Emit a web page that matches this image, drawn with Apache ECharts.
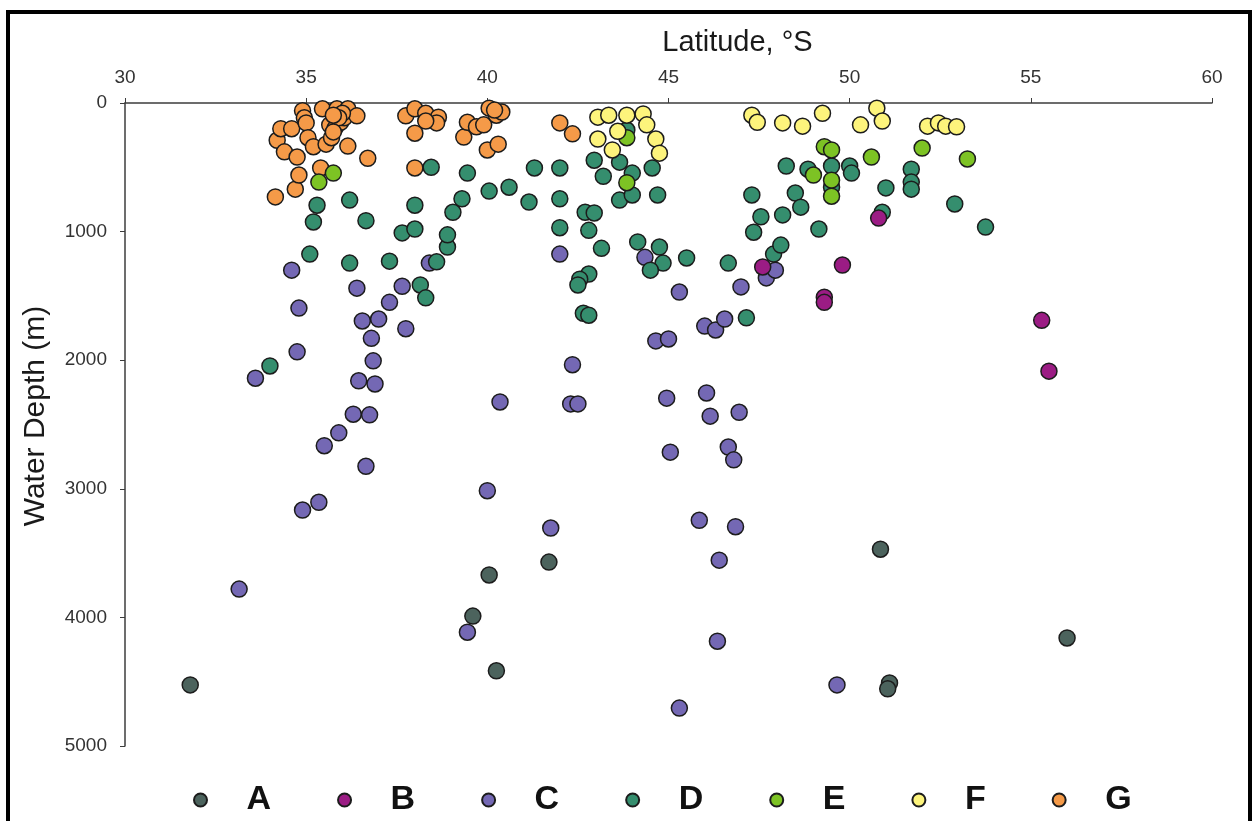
<!DOCTYPE html>
<html>
<head>
<meta charset="utf-8">
<title>Water depth vs latitude</title>
<script src="https://cdn.jsdelivr.net/npm/echarts@6/dist/echarts.min.js"></script>
<style>
html, body { margin: 0; padding: 0; background: #fff; }
#chart { width: 1253px; height: 821px; }
</style>
</head>
<body>
<div id="chart"></div>
<script>
// [latitude °S, water depth m]
const groupA = [[31.8,4525],[39.6,3990],[40.05,3670],[40.25,4415],[41.7,3570],[50.85,3470],[51.1,4510],[51.05,4555],[56.0,4160]];
const groupB = [[47.6,1275],[49.8,1260],[49.3,1510],[49.3,1550],[50.8,895],[55.3,1690],[55.5,2085]];
const groupC = [[33.15,3780],[33.6,2140],[34.6,1300],[34.8,1595],[34.75,1935],[34.9,3165],[35.35,3105],[35.5,2665],[35.9,2565],[36.3,2420],[36.75,2425],[36.65,2825],[36.4,1440],[36.55,1695],[37.0,1680],[36.8,1830],[36.85,2005],[36.45,2160],[36.9,2185],[37.3,1550],[37.65,1425],[37.75,1755],[38.4,1245],[39.45,4115],[40.0,3015],[40.35,2325],[41.75,3305],[42.0,1175],[42.35,2035],[42.3,2340],[42.5,2340],[44.35,1200],[45.3,1470],[44.65,1850],[45.0,1835],[44.95,2295],[45.05,2715],[45.3,4705],[45.85,3245],[46.0,1735],[46.3,1765],[46.55,1680],[46.05,2255],[46.15,2435],[46.4,3555],[46.35,4185],[46.65,2675],[46.8,2775],[46.85,3295],[46.95,2405],[47.0,1430],[47.7,1360],[47.95,1300],[49.65,4525]];
const groupD = [[34.0,2045],[35.1,1175],[35.2,925],[35.3,795],[36.2,755],[36.2,1245],[36.65,915],[37.3,1230],[37.65,1010],[38.0,980],[38.0,795],[38.15,1415],[38.3,1515],[38.45,500],[38.6,1235],[38.9,1120],[38.9,1025],[39.05,850],[39.3,745],[39.45,545],[40.05,685],[40.6,655],[41.15,770],[41.3,505],[42.0,505],[42.0,745],[42.0,970],[42.7,850],[42.95,855],[42.8,990],[43.15,1130],[42.8,1330],[42.55,1370],[42.5,1415],[42.65,1635],[42.8,1650],[42.95,445],[43.2,570],[43.65,460],[44.0,545],[44.55,505],[43.65,755],[44.0,715],[44.7,715],[44.15,1080],[44.75,1120],[44.85,1245],[44.5,1300],[45.5,1205],[46.65,1245],[47.15,1670],[47.3,715],[47.35,1005],[47.55,885],[47.9,1175],[48.1,1105],[48.15,870],[48.25,490],[48.5,700],[48.65,810],[48.85,515],[49.15,980],[49.5,490],[49.5,655],[50.0,490],[50.05,545],[50.9,850],[51.0,660],[51.7,515],[51.7,615],[51.7,670],[52.9,785],[53.75,965],[43.85,210]];
const groupE = [[35.35,615],[35.75,545],[43.85,270],[43.85,620],[49.0,560],[49.3,340],[49.5,365],[49.5,600],[49.5,725],[50.6,420],[52.0,350],[53.25,435]];
const groupF = [[43.05,280],[43.05,110],[43.35,95],[43.6,220],[43.85,95],[44.3,85],[44.4,170],[43.45,365],[44.65,280],[44.75,390],[47.3,95],[47.45,150],[48.15,155],[48.7,180],[49.25,80],[50.3,170],[50.75,40],[50.9,140],[52.15,180],[52.45,155],[52.65,180],[52.95,185]];
const groupG = [[34.15,730],[34.2,290],[34.3,200],[34.4,380],[34.6,200],[34.7,670],[34.75,420],[34.8,560],[34.9,60],[34.95,115],[35.0,155],[35.05,270],[35.2,340],[35.4,505],[35.45,45],[35.55,320],[35.7,270],[35.65,170],[35.8,195],[35.95,150],[36.05,115],[35.85,45],[36.15,45],[36.4,100],[36.15,335],[36.7,430],[37.75,100],[38.0,45],[38.3,80],[38.65,110],[38.6,155],[38.3,140],[38.0,235],[38.0,505],[39.35,265],[39.45,150],[39.7,185],[39.9,170],[40.05,40],[40.25,95],[40.4,70],[40.2,55],[40.0,365],[40.3,320],[42.0,155],[42.35,240],[36.0,80],[35.9,115],[35.75,95],[35.75,225]];

const groupNames = ['A', 'B', 'C', 'D', 'E', 'F', 'G'];
const groupColors = {
    A: '#4c635d',
    B: '#9b1c84',
    C: '#7468b4',
    D: '#358e6e',
    E: '#7dc324',
    F: '#fdf47c',
    G: '#f59a48'
};
const groupData = { A: groupA, B: groupB, C: groupC, D: groupD, E: groupE, F: groupF, G: groupG };
// drawing order, bottom to top
const drawOrder = ['A', 'C', 'D', 'B', 'G', 'E', 'F'];

const font = '"Liberation Sans", Arial, sans-serif';

const myChart = echarts.init(document.getElementById('chart'), null, { renderer: 'canvas' });

const option = {
    animation: false,
    backgroundColor: '#fff',
    grid: {
        left: 125,
        top: 103,
        right: 41,
        bottom: 75
    },
    legend: {
        data: groupNames,
        left: 193,
        top: 783,
        padding: 0,
        itemWidth: 82,
        itemHeight: 13,
        itemGap: 66,
        selectedMode: false,
        textStyle: {
            fontFamily: font,
            fontSize: 34,
            fontWeight: 'bold',
            color: '#111',
            width: 24
        }
    },
    xAxis: {
        type: 'value',
        position: 'top',
        min: 30,
        max: 60,
        interval: 5,
        name: 'Latitude, °S',
        nameLocation: 'middle',
        nameGap: 46,
        nameTextStyle: {
            fontFamily: font,
            fontSize: 29,
            color: '#1a1a1a',
            padding: [0, 0, 0, 138]
        },
        axisLine: { lineStyle: { color: '#3c3c3c', width: 1.5 } },
        axisTick: { show: true, length: 5, lineStyle: { color: '#3c3c3c' } },
        axisLabel: { fontFamily: font, fontSize: 19, color: '#333', margin: 16 },
        splitLine: { show: false }
    },
    yAxis: {
        type: 'value',
        inverse: true,
        min: 0,
        max: 5000,
        interval: 1000,
        name: 'Water Depth (m)',
        nameLocation: 'middle',
        nameGap: 74,
        nameTextStyle: {
            fontFamily: font,
            fontSize: 30,
            color: '#1a1a1a',
            padding: [0, 0, 0, 17]
        },
        axisLine: { show: true, lineStyle: { color: '#3c3c3c', width: 1.5 } },
        axisTick: { show: true, length: 5, lineStyle: { color: '#3c3c3c' } },
        axisLabel: {
            fontFamily: font,
            fontSize: 19,
            color: '#333',
            margin: 18,
            formatter: function (v) { return String(v); }
        },
        splitLine: { show: false }
    },
    graphic: [
        {
            type: 'rect',
            shape: { x: 8, y: 12, width: 1242, height: 900 },
            style: { fill: 'none', stroke: '#000', lineWidth: 4 },
            silent: true
        }
    ],
    series: drawOrder.map(function (name) {
        return {
            name: name,
            type: 'scatter',
            symbol: 'circle',
            symbolSize: 16,
            data: groupData[name],
            itemStyle: {
                color: groupColors[name],
                borderColor: '#1c1c1c',
                borderWidth: 1.5,
                opacity: 1
            },
            emphasis: { disabled: true }
        };
    })
};

myChart.setOption(option);
</script>
</body>
</html>
